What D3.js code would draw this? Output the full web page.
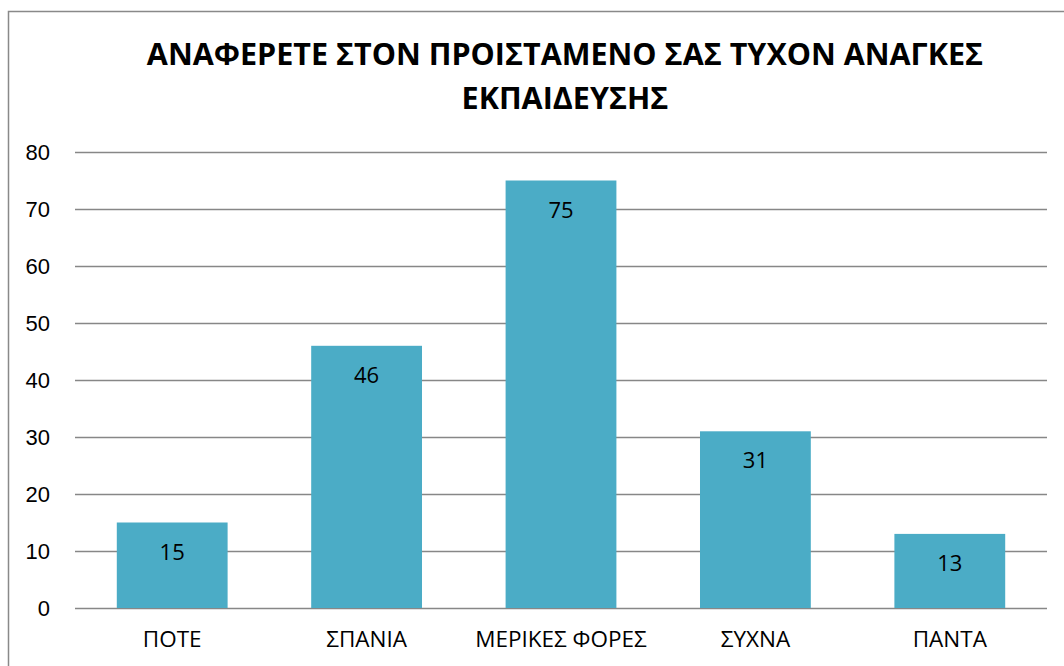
<!DOCTYPE html>
<html>
<head>
<meta charset="utf-8">
<script src="https://cdn.jsdelivr.net/npm/d3@7"></script>
<style>
  body { margin: 0; background: #fff; }
  svg { display: block; font-family: "Open Sans", "Noto Sans", sans-serif; }
</style>
</head>
<body>
<script>
(function(){
  //chart data
  var categories = ["ΠΟΤΕ", "ΣΠΑΝΙΑ", "ΜΕΡΙΚΕΣ ΦΟΡΕΣ", "ΣΥΧΝΑ", "ΠΑΝΤΑ"];
  var values = [15, 46, 75, 31, 13];
  var yTicks = [0, 10, 20, 30, 40, 50, 60, 70, 80];
  var titleLines = ["ΑΝΑΦΕΡΕΤΕ ΣΤΟΝ ΠΡΟΙΣΤΑΜΕΝΟ ΣΑΣ ΤΥΧΟΝ ΑΝΑΓΚΕΣ", "ΕΚΠΑΙΔΕΥΣΗΣ"];

  //frame dimensions
  var width = 1064,
      height = 666,
      plotLeft = 75,
      plotRight = 1047,
      plotTop = 152,
      plotBottom = 608;

  var svg = d3.select("body")
      .append("svg")
      .attr("width", width)
      .attr("height", height);

  //outer chart border (runs off the right and bottom edges)
  svg.append("rect")
      .attr("x", 8.5)
      .attr("y", 11.5)
      .attr("width", width + 20)
      .attr("height", height + 20)
      .attr("fill", "none")
      .attr("stroke", "#898989")
      .attr("stroke-width", 1.5);

  //scales
  var x = d3.scaleBand()
      .domain(categories)
      .range([plotLeft, plotRight])
      .paddingInner(0.43)
      .paddingOuter(0.215);

  var y = d3.scaleLinear()
      .domain([0, 80])
      .range([plotBottom, plotTop]);

  //horizontal gridlines + y labels via axis
  var yAxis = d3.axisLeft(y)
      .tickValues(yTicks)
      .tickSize(-(plotRight - plotLeft))
      .tickPadding(25)
      .tickFormat(d3.format("d"));

  var axis = svg.append("g")
      .attr("transform", "translate(" + plotLeft + ",0)")
      .call(yAxis);
  axis.select(".domain").remove();
  axis.selectAll("line")
      .attr("stroke", "#878787")
      .attr("stroke-width", 1.3);
  axis.selectAll("text")
      .attr("fill", "#000")
      .style("font-size", "22px");

  //bars
  svg.selectAll(".bar")
      .data(values)
      .enter()
      .append("rect")
      .attr("class", "bar")
      .attr("x", function(d, i){ return x(categories[i]); })
      .attr("width", x.bandwidth())
      .attr("y", function(d){ return y(d); })
      .attr("height", function(d){ return y(0) - y(d); })
      .attr("fill", "#4bacc6");

  //value labels inside bars
  svg.selectAll(".valLabel")
      .data(values)
      .enter()
      .append("text")
      .attr("class", "valLabel")
      .attr("x", function(d, i){ return x(categories[i]) + x.bandwidth() / 2; })
      .attr("y", function(d){ return y(d) + 37; })
      .attr("text-anchor", "middle")
      .style("font-size", "22px")
      .attr("fill", "#000")
      .text(function(d){ return d; });

  //category labels
  svg.selectAll(".catLabel")
      .data(categories)
      .enter()
      .append("text")
      .attr("class", "catLabel")
      .attr("x", function(d){ return x(d) + x.bandwidth() / 2; })
      .attr("y", 647)
      .attr("text-anchor", "middle")
      .style("font-size", "22.5px")
      .attr("fill", "#000")
      .text(function(d){ return d; });

  //title
  svg.selectAll(".chartTitle")
      .data(titleLines)
      .enter()
      .append("text")
      .attr("class", "chartTitle")
      .attr("x", 565)
      .attr("y", function(d, i){ return 65 + i * 44; })
      .attr("text-anchor", "middle")
      .style("font-size", "30.5px")
      .style("font-weight", "bold")
      .attr("fill", "#000")
      .text(function(d){ return d; });
})();
</script>
</body>
</html>
